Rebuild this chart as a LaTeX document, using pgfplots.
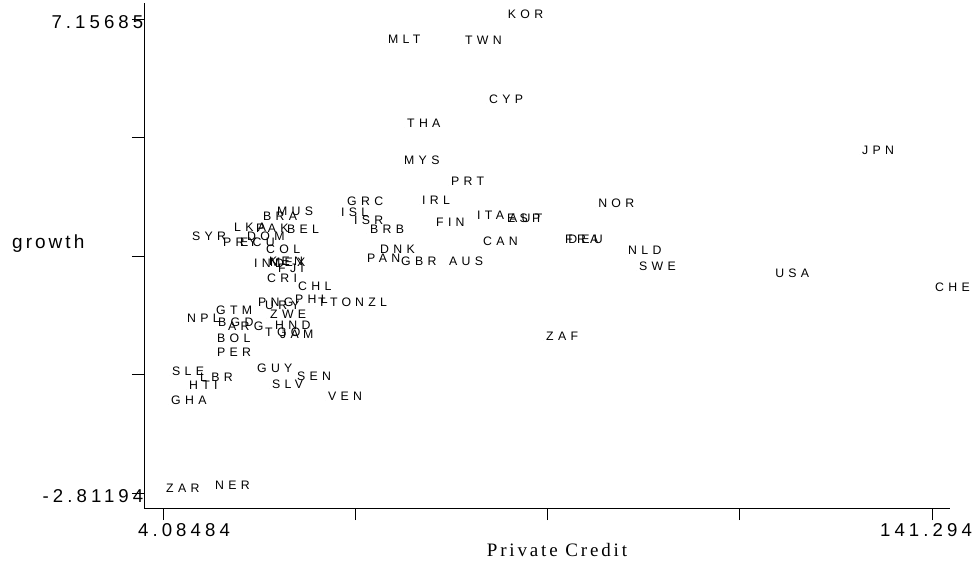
\documentclass[border=0pt]{standalone}
\usepackage{fontspec}
\usepackage{pgfplots}
\usepackage{pgfplotstable}
\pgfplotsset{compat=1.18}
\setmainfont{Liberation Sans}
\newfontfamily\labfont[LetterSpace=35]{Liberation Sans}
\newfontfamily\tckfont[LetterSpace=22]{Liberation Sans}
\newfontfamily\ylfont[LetterSpace=16]{Liberation Sans}
\newfontfamily\xlfont[LetterSpace=15]{Liberation Serif}
\pgfplotstableread{
label x y
KOR 65.05 7.15685
MLT 43.69 6.642
TWN 57.43 6.621
CYP 61.72 5.380
THA 47.09 4.875
MYS 46.55 4.097
PRT 54.94 3.655
GRC 36.38 3.235
IRL 49.76 3.256
ISL 35.31 3.003
ISR 37.63 2.835
BRB 40.48 2.646
FIN 52.26 2.793
ITA 59.57 2.940
ESP 64.93 2.877
AUT 65.28 2.867
CAN 60.65 2.393
FRA 75.28 2.436
DEU 75.82 2.436
NOR 81.17 3.193
DNK 42.27 2.225
PAN 39.95 2.036
GBR 46.01 1.973
AUS 54.58 1.973
NLD 86.52 2.204
SWE 88.48 1.868
USA 112.75 1.720
CHE 141.294 1.426
JPN 128.27 4.307
SYR 8.72 2.499
PRY 14.26 2.372
ECU 17.29 2.372
LKA 16.22 2.688
PAK 20.14 2.667
BRA 21.39 2.919
MUS 23.89 3.024
BEL 25.67 2.646
DOM 18.54 2.499
COL 21.93 2.225
IND 19.79 1.931
KEN 22.46 1.973
MEX 22.64 1.952
FJI 24.07 1.826
CRI 22.11 1.615
CHL 27.64 1.447
PNG 20.50 1.111
URY 21.75 1.048
PHL 27.10 1.174
TTO 31.21 1.111
NZL 37.81 1.111
GTM 13.01 0.942
NPL 7.83 0.774
BGD 13.36 0.690
ARG 15.15 0.606
ZWE 22.64 0.858
HND 23.53 0.627
TGO 21.75 0.480
JAM 24.43 0.438
BOL 13.18 0.354
PER 13.18 0.059
GUY 20.32 -0.277
SEN 27.46 -0.446
SLV 23.00 -0.614
SLE 5.16 -0.341
LBR 10.15 -0.467
HTI 8.19 -0.635
GHA 4.98 -0.950
VEN 32.99 -0.866
ZAR 4.08484 -2.81194
NER 12.83 -2.738
ZAF 71.89 0.396
}\datatable
\begin{document}
\begin{tikzpicture}
\useasboundingbox (0,0) rectangle (975pt,563pt);
\begin{axis}[
  at={(144pt,55pt)}, anchor=south west,
  scale only axis, width=806pt, height=505pt,
  xmin=0.695, xmax=144.50, ymin=-3.1274, ymax=7.4934,
  axis x line*=bottom, axis y line*=left,
  axis line style={line width=0.8pt, black, -},
  tick align=outside, major tick length=12pt,
  tick style={line width=0.8pt, black},
  xtick={4.08484,38.38713,72.68942,106.99171,141.294},
  xticklabels={\hspace*{42pt}4.08484,,,,141.294\hspace*{12pt}},
  ytick={-2.81194,-0.3197425,2.172255,4.6644525,7.15685},
  yticklabels={-2.81194,,,,7.15685},
  xticklabel style={font=\tckfont\fontsize{18.6}{20}\selectfont, anchor=base, inner sep=0pt, yshift=-16pt},
  yticklabel style={font=\tckfont\fontsize{18.6}{20}\selectfont, anchor=base east, inner sep=0pt, xshift=11.5pt, yshift=-9.5pt},
  xlabel={Private Credit},
  xlabel style={font=\xlfont\fontsize{19}{20}\selectfont, at={(axis description cs:0.5124,-0.0970)}, anchor=base, inner sep=0pt},
  ylabel={growth},
  ylabel style={rotate=-90, font=\ylfont\fontsize{19}{20}\selectfont, at={(axis description cs:-0.1638,0.513)}, anchor=base west, inner sep=0pt},
  clip=false,
]
\addplot[only marks, mark=*, mark size=0pt, mark options={draw=none, fill=none},
  point meta=explicit symbolic,
  nodes near coords,
  nodes near coords style={anchor=west, xshift=3pt, yshift=4.5pt, inner sep=0pt, text=black, text opacity=1,
    font=\labfont\fontsize{12.3}{13}\selectfont}]
  table[x=x, y=y, meta=label] {\datatable};
\end{axis}
\end{tikzpicture}
\end{document}
